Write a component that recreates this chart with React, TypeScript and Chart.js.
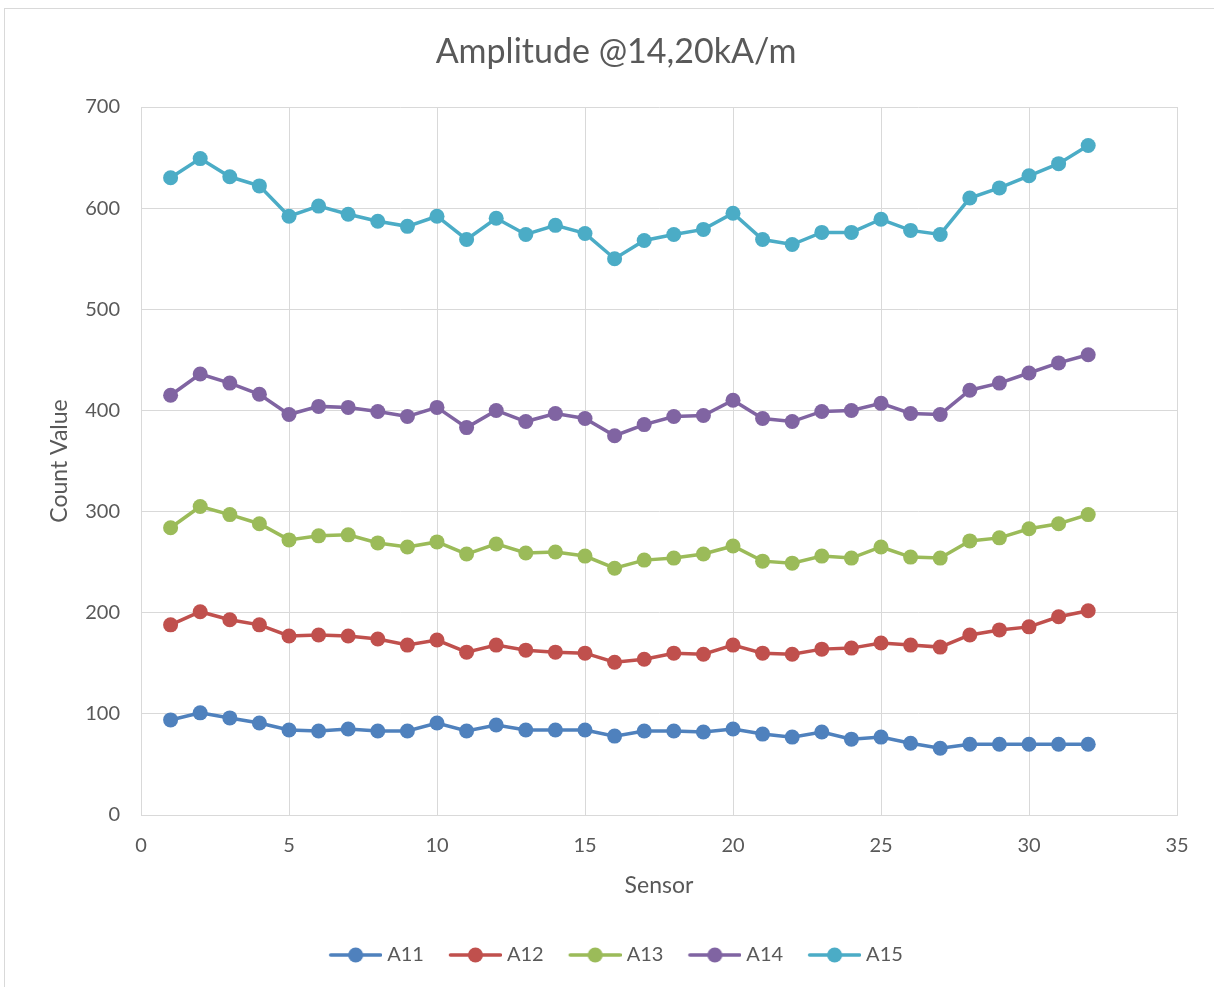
import React, { useEffect, useRef } from "react";
import { Chart, registerables } from "chart.js";

Chart.register(...registerables);

// Sensor index along the horizontal axis
const sensors = [1, 2, 3, 4, 5, 6, 7, 8, 9, 10, 11, 12, 13, 14, 15, 16, 17, 18, 19, 20, 21, 22, 23, 24, 25, 26, 27, 28, 29, 30, 31, 32];

const seriesNames = ["A11", "A12", "A13", "A14", "A15"];
const seriesColors = ["#4F81BD", "#C0504D", "#9BBB59", "#8064A2", "#4BACC6"];

const a11 = [94, 101, 96, 91, 84, 83, 85, 83, 83, 91, 83, 89, 84, 84, 84, 78, 83, 83, 82, 85, 80, 77, 82, 75, 77, 71, 66, 70, 70, 70, 70, 70];
const a12 = [188, 201, 193, 188, 177, 178, 177, 174, 168, 173, 161, 168, 163, 161, 160, 151, 154, 160, 159, 168, 160, 159, 164, 165, 170, 168, 166, 178, 183, 186, 196, 202];
const a13 = [284, 305, 297, 288, 272, 276, 277, 269, 265, 270, 258, 268, 259, 260, 256, 244, 252, 254, 258, 266, 251, 249, 256, 254, 265, 255, 254, 271, 274, 283, 288, 297];
const a14 = [415, 436, 427, 416, 396, 404, 403, 399, 394, 403, 383, 400, 389, 397, 392, 375, 386, 394, 395, 410, 392, 389, 399, 400, 407, 397, 396, 420, 427, 437, 447, 455];
const a15 = [630, 649, 631, 622, 592, 602, 594, 587, 582, 592, 569, 590, 574, 583, 575, 550, 568, 574, 579, 595, 569, 564, 576, 576, 589, 578, 574, 610, 620, 632, 644, 662];

const seriesValues = [a11, a12, a13, a14, a15];

const chartTitle = "Amplitude @14,20kA/m";
const xTitle = "Sensor";
const yTitle = "Count Value";

const FONT = "Lato, 'Open Sans', sans-serif";
const TEXT = "#595959";
const GRID = "#d9d9d9";

// Legend swatch: a short line with a round marker on it
function makeSwatch(color: string): HTMLCanvasElement {
  const c = document.createElement("canvas");
  c.width = 58;
  c.height = 18;
  const g = c.getContext("2d")!;
  g.strokeStyle = color;
  g.lineWidth = 3.5;
  g.lineCap = "round";
  g.beginPath();
  g.moveTo(6.5, 9);
  g.lineTo(56.5, 9);
  g.stroke();
  g.fillStyle = color;
  g.beginPath();
  g.arc(31.5, 9, 7.5, 0, Math.PI * 2);
  g.fill();
  return c;
}

const frame = {
  id: "frame",
  beforeDraw(chart: Chart) {
    const ctx = chart.ctx;
    ctx.save();
    ctx.fillStyle = "#ffffff";
    ctx.fillRect(0, 0, chart.width, chart.height);
    ctx.strokeStyle = GRID;
    ctx.lineWidth = 1;
    ctx.strokeRect(4.5, 8.5, chart.width + 10, chart.height + 10);
    ctx.restore();
  },
};

export default function App() {
  const ref = useRef<HTMLCanvasElement | null>(null);

  useEffect(() => {
    if (!ref.current) return;
    const swatches = seriesColors.map(makeSwatch);
    const chart = new Chart(ref.current, {
      type: "line",
      data: {
        datasets: seriesNames.map((name, i) => ({
          label: name,
          data: sensors.map((s, j) => ({ x: s, y: seriesValues[i][j] })),
          borderColor: seriesColors[i],
          backgroundColor: seriesColors[i],
          borderWidth: 3.5,
          pointRadius: 7.5,
          pointHoverRadius: 7.5,
          pointBorderWidth: 0,
          pointBackgroundColor: seriesColors[i],
          tension: 0,
          fill: false,
        })),
      },
      options: {
        responsive: false,
        animation: false,
        layout: { padding: { left: 55, right: 37, top: 0, bottom: 12 } },
        plugins: {
          title: {
            display: true,
            text: chartTitle,
            color: TEXT,
            font: { family: FONT, size: 34, weight: "normal" },
            padding: { top: 31.6, bottom: 34.6 },
          },
          legend: {
            position: "bottom",
            labels: {
              color: TEXT,
              font: { family: FONT, size: 20 },
              usePointStyle: true,
              pointStyleWidth: 48,
              padding: 25,
              generateLabels: () =>
                seriesNames.map((name, i) => ({
                  text: name,
                  pointStyle: swatches[i],
                  fillStyle: seriesColors[i],
                  strokeStyle: seriesColors[i],
                  lineWidth: 0,
                  hidden: false,
                  datasetIndex: i,
                  fontColor: TEXT,
                })),
            },
          },
          tooltip: { enabled: false },
        },
        scales: {
          x: {
            type: "linear",
            min: 0,
            max: 35,
            ticks: {
              stepSize: 5,
              color: TEXT,
              font: { family: FONT, size: 20 },
              padding: 19,
            },
            grid: { color: GRID, drawTicks: false },
            border: { color: GRID },
            title: {
              display: true,
              text: xTitle,
              color: TEXT,
              font: { family: FONT, size: 23 },
              padding: { top: 0, bottom: 21 },
            },
            afterFit(scale: any) {
              scale.height = 105;
            },
          },
          y: {
            min: 0,
            max: 700,
            ticks: {
              stepSize: 100,
              color: TEXT,
              font: { family: FONT, size: 20 },
              padding: 21,
            },
            grid: { color: GRID, drawTicks: false },
            border: { color: GRID },
            title: {
              display: true,
              text: yTitle,
              color: TEXT,
              font: { family: FONT, size: 23 },
              padding: { top: -9, bottom: 0 },
            },
            afterFit(scale: any) {
              scale.width = 86;
            },
          },
        },
      },
      plugins: [frame],
    });
    return () => chart.destroy();
  }, []);

  return (
    <div style={{ position: "absolute", left: 0, top: 0, width: 1214, height: 987 }}>
      <canvas ref={ref} width={1214} height={987} style={{ display: "block" }} />
    </div>
  );
}
